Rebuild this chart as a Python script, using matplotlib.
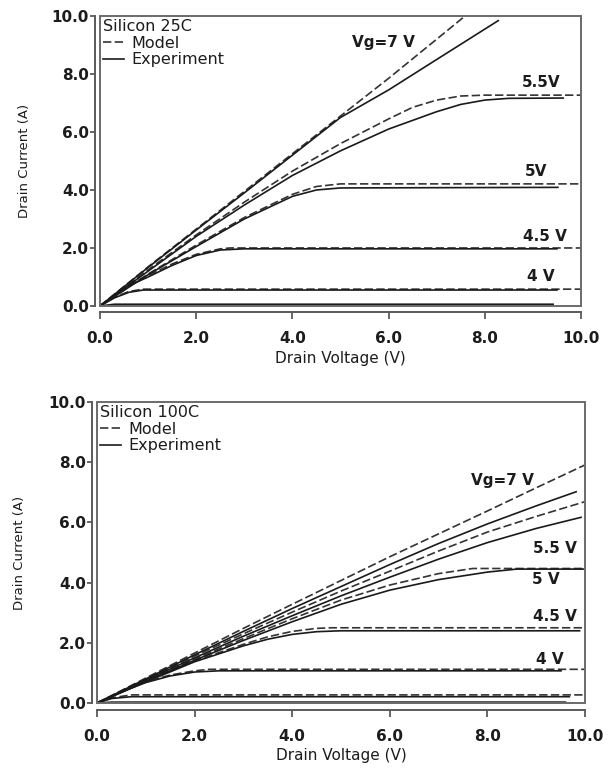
import matplotlib
matplotlib.use("Agg")
import matplotlib.pyplot as plt
from matplotlib.patches import Rectangle
from matplotlib.ticker import FormatStrFormatter, MultipleLocator

# ---------------- Silicon 25C (drain voltage V, drain current A) ----------------
vd_25_7m = [0, 1, 2, 3, 4, 5, 6, 7, 7.59]
id_25_7m = [0, 1.35, 2.65, 3.95, 5.25, 6.55, 7.85, 9.2, 10.0]
vd_25_7e = [0, 1, 2, 3, 4, 5, 6, 7, 8.28]
id_25_7e = [0, 1.33, 2.62, 3.9, 5.2, 6.5, 7.45, 8.5, 9.84]

vd_25_55m = [0, 1, 2, 3, 4, 5, 6, 6.5, 7, 7.5, 8, 10]
id_25_55m = [0, 1.25, 2.45, 3.58, 4.65, 5.6, 6.45, 6.85, 7.1, 7.24, 7.27, 7.27]
vd_25_55e = [0, 1, 2, 3, 4, 5, 6, 7, 7.5, 8, 8.5, 9.63]
id_25_55e = [0, 1.2, 2.4, 3.48, 4.5, 5.35, 6.1, 6.7, 6.95, 7.1, 7.16, 7.17]

vd_25_5m = [0, 1, 2, 3, 4, 4.5, 5, 10]
id_25_5m = [0, 1.1, 2.1, 3.05, 3.85, 4.12, 4.21, 4.21]
vd_25_5e = [0, 1, 2, 3, 4, 4.5, 5, 9.52]
id_25_5e = [0, 1.08, 2.05, 3.0, 3.78, 4.0, 4.07, 4.09]

vd_25_45m = [0, 0.5, 1, 1.5, 2, 2.5, 2.7, 10]
id_25_45m = [0, 0.65, 1.05, 1.45, 1.78, 1.97, 2.0, 2.0]
vd_25_45e = [0, 0.5, 1, 1.5, 2, 2.5, 3, 9.5]
id_25_45e = [0, 0.62, 1.0, 1.4, 1.74, 1.93, 1.97, 1.97]

vd_25_4m = [0, 0.3, 0.6, 0.9, 10]
id_25_4m = [0, 0.3, 0.5, 0.58, 0.58]
vd_25_4e = [0, 0.3, 0.6, 0.9, 9.5]
id_25_4e = [0, 0.28, 0.47, 0.55, 0.55]

vd_25_low = [0, 0.3, 9.42]
id_25_low = [0, 0.06, 0.06]

# ---------------- Silicon 100C ----------------
vd_100_7m = [0, 1, 2, 3, 4, 5, 6, 7, 8, 9, 10]
id_100_7m = [0, 0.83, 1.66, 2.48, 3.28, 4.07, 4.86, 5.62, 6.38, 7.15, 7.91]
vd_100_7e = [0, 1, 2, 3, 4, 5, 6, 7, 8, 9, 9.82]
id_100_7e = [0, 0.8, 1.6, 2.38, 3.14, 3.87, 4.6, 5.3, 5.95, 6.55, 7.02]

vd_100_6m = [0, 1, 2, 3, 4, 5, 6, 7, 8, 9, 10]
id_100_6m = [0, 0.78, 1.56, 2.3, 3.02, 3.72, 4.38, 5.05, 5.68, 6.2, 6.69]
vd_100_6e = [0, 1, 2, 3, 4, 5, 6, 7, 8, 9, 9.92]
id_100_6e = [0, 0.76, 1.5, 2.22, 2.9, 3.56, 4.18, 4.78, 5.33, 5.8, 6.17]

vd_100_5m = [0, 1, 2, 3, 4, 5, 6, 7, 7.7, 10]
id_100_5m = [0, 0.74, 1.46, 2.14, 2.8, 3.42, 3.92, 4.3, 4.47, 4.47]
vd_100_5e = [0, 1, 2, 3, 4, 5, 6, 7, 8, 8.6, 10]
id_100_5e = [0, 0.72, 1.42, 2.08, 2.7, 3.28, 3.75, 4.1, 4.35, 4.45, 4.45]

vd_100_45m = [0, 1, 2, 3, 3.5, 4, 4.5, 4.8, 10]
id_100_45m = [0, 0.72, 1.4, 1.95, 2.2, 2.38, 2.48, 2.5, 2.5]
vd_100_45e = [0, 1, 2, 3, 3.5, 4, 4.5, 5, 9.89]
id_100_45e = [0, 0.7, 1.37, 1.9, 2.12, 2.28, 2.37, 2.4, 2.4]

vd_100_4m = [0, 0.5, 1, 1.5, 2, 2.3, 10]
id_100_4m = [0, 0.38, 0.7, 0.93, 1.07, 1.12, 1.12]
vd_100_4e = [0, 0.5, 1, 1.5, 2, 2.5, 9.51]
id_100_4e = [0, 0.37, 0.68, 0.9, 1.03, 1.07, 1.07]

vd_100_35m = [0, 0.3, 0.7, 10]
id_100_35m = [0, 0.17, 0.27, 0.27]
vd_100_35e = [0, 0.3, 0.7, 9.68]
id_100_35e = [0, 0.15, 0.21, 0.21]

vd_100_low = [0, 0.3, 9.6]
id_100_low = [0, 0.03, 0.03]

# curve labels (text, x, y)
labels_25 = [("Vg=7 V", 5.9, 9.07), ("5.5V", 9.17, 7.69), ("5V", 9.06, 4.62),
             ("4.5 V", 9.26, 2.38), ("4 V", 9.17, 1.0)]
labels_100 = [("Vg=7 V", 8.31, 7.41), ("5.5 V", 9.39, 5.14), ("5 V", 9.19, 4.11),
              ("4.5 V", 9.39, 2.89), ("4 V", 9.27, 1.45)]

model_25 = [(vd_25_7m, id_25_7m), (vd_25_55m, id_25_55m), (vd_25_5m, id_25_5m),
            (vd_25_45m, id_25_45m), (vd_25_4m, id_25_4m)]
exp_25 = [(vd_25_7e, id_25_7e), (vd_25_55e, id_25_55e), (vd_25_5e, id_25_5e),
          (vd_25_45e, id_25_45e), (vd_25_4e, id_25_4e), (vd_25_low, id_25_low)]
model_100 = [(vd_100_7m, id_100_7m), (vd_100_6m, id_100_6m), (vd_100_5m, id_100_5m),
             (vd_100_45m, id_100_45m), (vd_100_4m, id_100_4m), (vd_100_35m, id_100_35m)]
exp_100 = [(vd_100_7e, id_100_7e), (vd_100_6e, id_100_6e), (vd_100_5e, id_100_5e),
           (vd_100_45e, id_100_45e), (vd_100_4e, id_100_4e), (vd_100_35e, id_100_35e),
           (vd_100_low, id_100_low)]

plt.rcParams['font.family'] = ['DejaVu Sans']
TXT = '#1c1c1c'
AX = '#5a5a5a'


def draw_panel(ax, title, models, exps, labels, left_off, bottom_off, ylab_x, xlab_y):
    for i, (x, y) in enumerate(models):
        ax.plot(x, y, color='#333333', lw=1.2, dashes=(5, 2),
                label='Model' if i == 0 else None)
    for i, (x, y) in enumerate(exps):
        ax.plot(x, y, color='#1a1a1a', lw=1.2,
                label='Experiment' if i == 0 else None)

    ax.set_xlim(0, 10)
    ax.set_ylim(0, 10)
    ax.xaxis.set_major_locator(MultipleLocator(2))
    ax.yaxis.set_major_locator(MultipleLocator(2))
    ax.xaxis.set_major_formatter(FormatStrFormatter('%.1f'))
    ax.yaxis.set_major_formatter(FormatStrFormatter('%.1f'))

    # offset axes, Igor style, plus a box round the plot area
    ax.spines['top'].set_visible(False)
    ax.spines['right'].set_visible(False)
    ax.spines['left'].set_position(('outward', left_off))
    ax.spines['bottom'].set_position(('outward', bottom_off))
    for s in ('left', 'bottom'):
        ax.spines[s].set_color(AX)
        ax.spines[s].set_linewidth(1.4)
    ax.add_patch(Rectangle((0, 0), 1, 1, transform=ax.transAxes, fill=False,
                           ec='#6a6a6a', lw=1.4, clip_on=False, zorder=5))

    ax.tick_params(axis='y', direction='out', length=3.5, width=1.3, pad=1,
                   labelsize=11, colors=AX, labelcolor=TXT)
    ax.tick_params(axis='x', direction='out', length=5, width=1.3, pad=9,
                   labelsize=11, colors=AX, labelcolor=TXT)
    for lbl in ax.get_xticklabels() + ax.get_yticklabels():
        lbl.set_fontweight('bold')

    ax.set_xlabel('Drain Voltage (V)', fontsize=11, color=TXT)
    ax.set_ylabel('Drain Current (A)', fontsize=9.5, color=TXT)
    ax.yaxis.set_label_coords(ylab_x, 0.5)
    ax.xaxis.set_label_coords(0.5, xlab_y)

    for txt, x, y in labels:
        ax.text(x, y, txt, fontsize=11, fontweight='bold', color=TXT,
                ha='center', va='center')

    leg = ax.legend(title=title, loc='upper left', bbox_to_anchor=(0, 1),
                    frameon=False, fontsize=11.5, title_fontsize=11.5,
                    handlelength=1.3, handletextpad=0.45, labelspacing=0.1,
                    borderaxespad=0.1, borderpad=0.1, alignment='left')
    for t in leg.get_texts():
        t.set_color(TXT)
    leg.get_title().set_color(TXT)


fig = plt.figure(figsize=(6.08, 7.68), dpi=100)
ax1 = fig.add_axes([0.1645, 0.6016, 0.7911, 0.3776])
ax2 = fig.add_axes([0.1595, 0.0846, 0.8026, 0.3919])

draw_panel(ax1, 'Silicon 25C', model_25, exp_25, labels_25, 3.6, 4.3, -0.143, -0.155)
draw_panel(ax2, 'Silicon 100C', model_100, exp_100, labels_100, 3.4, 4.8, -0.145, -0.15)

fig.savefig('out.png', dpi=100)
